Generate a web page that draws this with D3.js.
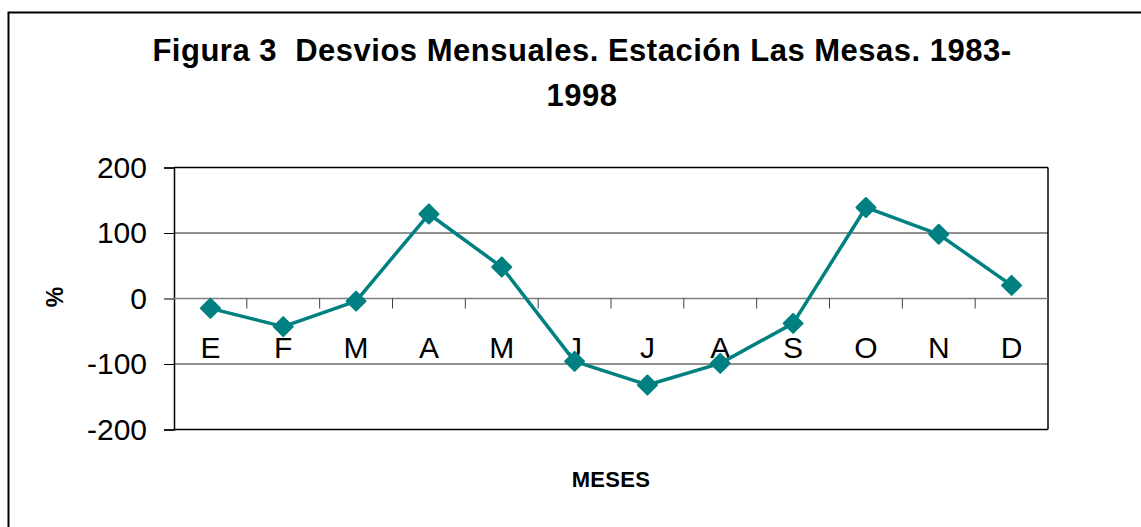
<!DOCTYPE html>
<html lang="es">
<head>
	<meta charset="UTF-8">
	<title>Figura 3 Desvios Mensuales</title>
	<style>
		html, body {
			margin: 0;
			background: #fff;
		}
		svg text {
			font-family: 'Liberation Sans', Arial, sans-serif;
			fill: #000;
			white-space: pre;
		}
	</style>
	<script src="https://cdn.jsdelivr.net/npm/d3@7"></script>
</head>
<body>
	<svg id="chart"></svg>
	<script>
		// month initials (Spanish), values in %
		const months = ['E', 'F', 'M', 'A', 'M', 'J', 'J', 'A', 'S', 'O', 'N', 'D'];
		const desvios = [-15, -43, -4, 129, 48, -96, -132, -99, -38, 139, 98, 20];
		const yTicks = [-200, -100, 0, 100, 200];
		const titleLines = ['Figura 3  Desvios Mensuales. Estación Las Mesas. 1983-', '1998'];

		const width = 1141, height = 527;
		const plot = { left: 174, right: 1048, top: 167.5, bottom: 429.5 };
		const teal = '#008080';

		const svg = d3.select('#chart')
			.attr('width', width)
			.attr('height', height);

		// outer chart frame (runs off the right and bottom edges)
		svg.append('rect')
			.attr('x', 8.5).attr('y', 12.5)
			.attr('width', width + 10).attr('height', height + 10)
			.attr('fill', 'none')
			.attr('stroke', '#000')
			.attr('stroke-width', 2);

		// title
		svg.append('g')
			.selectAll('text')
			.data(titleLines)
			.join('text')
			.attr('x', 582)
			.attr('y', (d, i) => 61 + i * 45)
			.attr('text-anchor', 'middle')
			.attr('font-size', '31px')
			.attr('font-weight', 'bold')
			.attr('letter-spacing', '0.5px')
			.text(d => d);

		const x = d3.scaleBand()
			.domain(d3.range(months.length))
			.range([plot.left, plot.right]);

		const y = d3.scaleLinear()
			.domain([-200, 200])
			.range([plot.bottom, plot.top]);

		// horizontal gridlines
		svg.append('g')
			.selectAll('line')
			.data(yTicks.filter(v => v !== 0))
			.join('line')
			.attr('x1', plot.left).attr('x2', plot.right)
			.attr('y1', d => y(d)).attr('y2', d => y(d))
			.attr('stroke', d => Math.abs(d) === 200 ? '#000' : '#222')
			.attr('stroke-width', d => Math.abs(d) === 200 ? 1.5 : 1);

		// right border of the plot area
		svg.append('line')
			.attr('x1', plot.right).attr('x2', plot.right)
			.attr('y1', plot.top).attr('y2', plot.bottom)
			.attr('stroke', '#000')
			.attr('stroke-width', 1.5);

		// y axis
		const yAxis = svg.append('g')
			.attr('transform', `translate(${plot.left},0)`)
			.call(d3.axisLeft(y).tickValues(yTicks).tickSize(10).tickPadding(17)
				.tickFormat(d => String(d)));
		yAxis.select('.domain').attr('stroke', '#000').attr('stroke-width', 1.5);
		yAxis.selectAll('.tick line').attr('stroke', '#000').attr('stroke-width', 1);
		yAxis.selectAll('.tick text')
			.attr('font-size', '30px')
			.attr('font-family', "'Liberation Sans', Arial, sans-serif")
			.attr('fill', '#000');

		// x axis on the zero line, ticks between the months
		const xAxis = svg.append('g')
			.attr('transform', `translate(0,${y(0)})`);
		xAxis.append('line')
			.attr('x1', plot.left).attr('x2', plot.right)
			.attr('stroke', '#808080')
			.attr('stroke-width', 1.5);
		xAxis.selectAll('line.tick')
			.data(d3.range(1, months.length))
			.join('line')
			.attr('class', 'tick')
			.attr('x1', d => x(d)).attr('x2', d => x(d))
			.attr('y1', 0).attr('y2', 10)
			.attr('stroke', '#404040')
			.attr('stroke-width', 1);
		xAxis.selectAll('text')
			.data(months)
			.join('text')
			.attr('x', (d, i) => x(i) + x.bandwidth() / 2)
			.attr('y', 59)
			.attr('text-anchor', 'middle')
			.attr('font-size', '30px')
			.text(d => d);

		// series line
		const line = d3.line()
			.x((d, i) => x(i) + x.bandwidth() / 2)
			.y(d => y(d));

		svg.append('path')
			.datum(desvios)
			.attr('d', line)
			.attr('fill', 'none')
			.attr('stroke', teal)
			.attr('stroke-width', 3.5)
			.attr('stroke-linejoin', 'round');

		// diamond markers
		const r = 9.5;
		svg.append('g')
			.selectAll('path')
			.data(desvios)
			.join('path')
			.attr('d', `M0,${-r}L${r},0L0,${r}L${-r},0Z`)
			.attr('transform', (d, i) => `translate(${x(i) + x.bandwidth() / 2},${y(d)})`)
			.attr('fill', teal)
			.attr('stroke', teal)
			.attr('stroke-width', 2)
			.attr('stroke-linejoin', 'round');

		// axis titles
		svg.append('text')
			.attr('transform', `translate(63,297) rotate(-90)`)
			.attr('text-anchor', 'middle')
			.attr('font-size', '23px')
			.attr('font-weight', 'bold')
			.text('%');

		svg.append('text')
			.attr('x', (plot.left + plot.right) / 2)
			.attr('y', 487)
			.attr('text-anchor', 'middle')
			.attr('font-size', '22px')
			.attr('font-weight', 'bold')
			.attr('letter-spacing', '0.3px')
			.text('MESES');
	</script>
</body>
</html>
